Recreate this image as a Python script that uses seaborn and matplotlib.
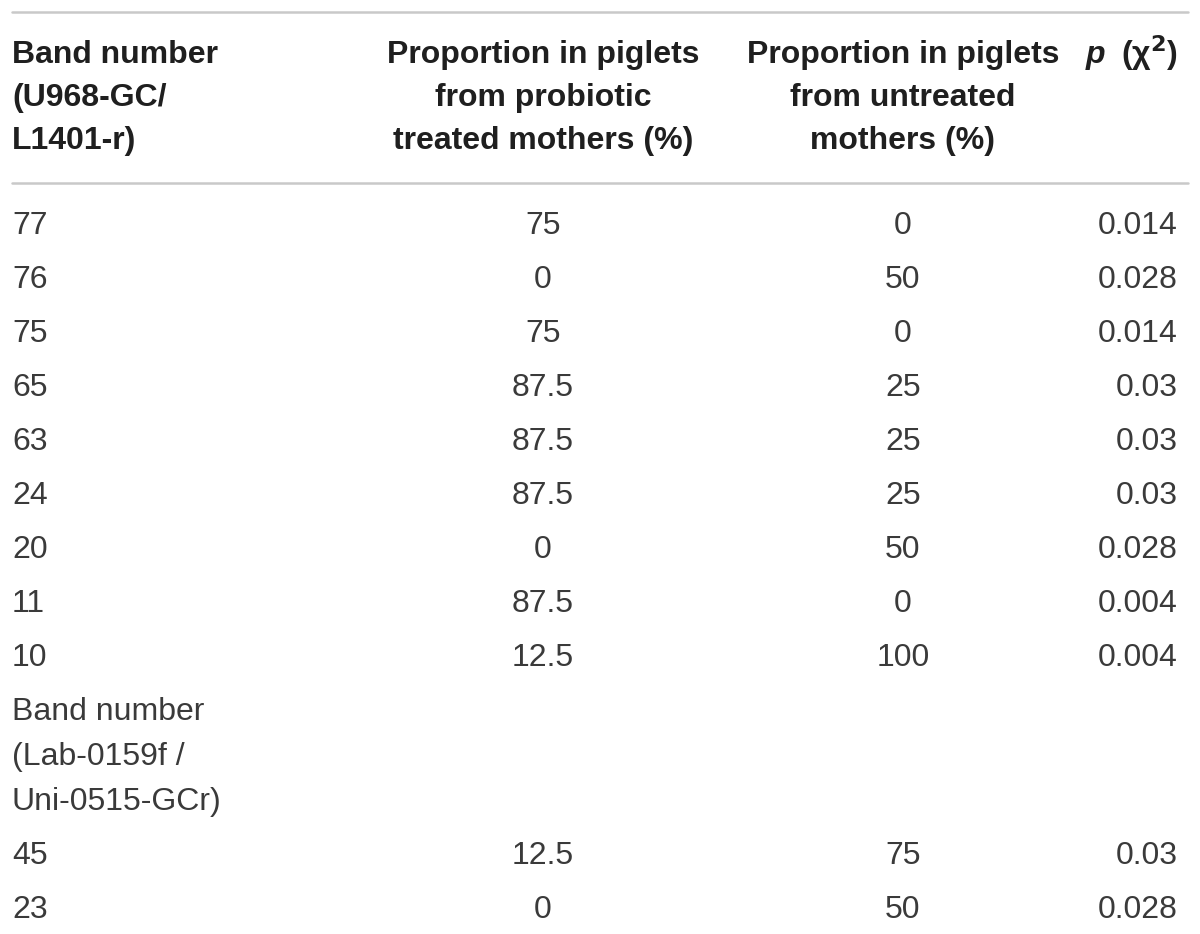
import matplotlib.pyplot as plt
import seaborn as sns
import pandas as pd

# table content
header_band = ["Band number", "(U968-GC/", "L1401-r)"]
header_treated = ["Proportion in piglets", "from probiotic", "treated mothers (%)"]
header_untreated = ["Proportion in piglets", "from untreated", "mothers (%)"]

bands_1 = [77, 76, 75, 65, 63, 24, 20, 11, 10]
treated_1 = [75, 0, 75, 87.5, 87.5, 87.5, 0, 87.5, 12.5]
untreated_1 = [0, 50, 0, 25, 25, 25, 50, 0, 100]
pvals_1 = [0.014, 0.028, 0.014, 0.03, 0.03, 0.03, 0.028, 0.004, 0.004]

subheading_2 = ["Band number", "(Lab-0159f /", "Uni-0515-GCr)"]
bands_2 = [45, 23]
treated_2 = [12.5, 0]
untreated_2 = [75, 50]
pvals_2 = [0.03, 0.028]

sns.set_theme(style="white")
plt.rcParams['font.family'] = ['Liberation Sans', 'DejaVu Sans']

fig = plt.figure(figsize=(12, 9.34), dpi=100)
ax = fig.add_axes([0, 0, 1, 1])

fs = 23
txt_color = '#3a3a3a'
head_color = '#1f1f1f'
rule_color = '#c9c9c9'

col_x = [12, 543, 903, 1178]
head_line_gap = 43
head_y0 = 55
row_gap = 54
line_gap = 45
body_y0 = 226

# rules
rules = pd.DataFrame({'x': [12, 1188, 12, 1188], 'y': [12, 12, 183, 183], 'r': [0, 0, 1, 1]})
sns.lineplot(data=rules, x='x', y='y', units='r', estimator=None, color=rule_color,
             lw=1.8, ax=ax, legend=False)
ax.set_xlim(0, 1200)
ax.set_ylim(934, 0)
ax.axis('off')

# header
hkw = dict(fontsize=fs, fontweight='bold', color=head_color, va='center')
for i, s in enumerate(header_band):
    ax.text(col_x[0], head_y0 + i * head_line_gap, s, ha='left', **hkw)
for i, s in enumerate(header_treated):
    ax.text(col_x[1], head_y0 + i * head_line_gap, s, ha='center', **hkw)
for i, s in enumerate(header_untreated):
    ax.text(col_x[2], head_y0 + i * head_line_gap, s, ha='center', **hkw)
ax.text(1086, head_y0, "p", ha='left', fontstyle='italic', **hkw)
ax.text(col_x[3], head_y0 - 2, r"(χ$^{\mathbf{2}}$)", ha='right', **hkw)

bkw = dict(fontsize=fs, color=txt_color, va='center')


def draw_row(y, band, tr, un, p):
    ax.text(col_x[0], y, f"{band}", ha='left', **bkw)
    ax.text(col_x[1], y, f"{tr:g}", ha='center', **bkw)
    ax.text(col_x[2], y, f"{un:g}", ha='center', **bkw)
    ax.text(col_x[3], y, f"{p:g}", ha='right', **bkw)


y = body_y0
for b, t, u, p in zip(bands_1, treated_1, untreated_1, pvals_1):
    draw_row(y, b, t, u, p)
    y += row_gap

for i, s in enumerate(subheading_2):
    ax.text(col_x[0], y + i * line_gap, s, ha='left', **bkw)
y += (len(subheading_2) - 1) * line_gap + row_gap

for b, t, u, p in zip(bands_2, treated_2, untreated_2, pvals_2):
    draw_row(y, b, t, u, p)
    y += row_gap

fig.savefig('out.png', dpi=100, facecolor='white')
